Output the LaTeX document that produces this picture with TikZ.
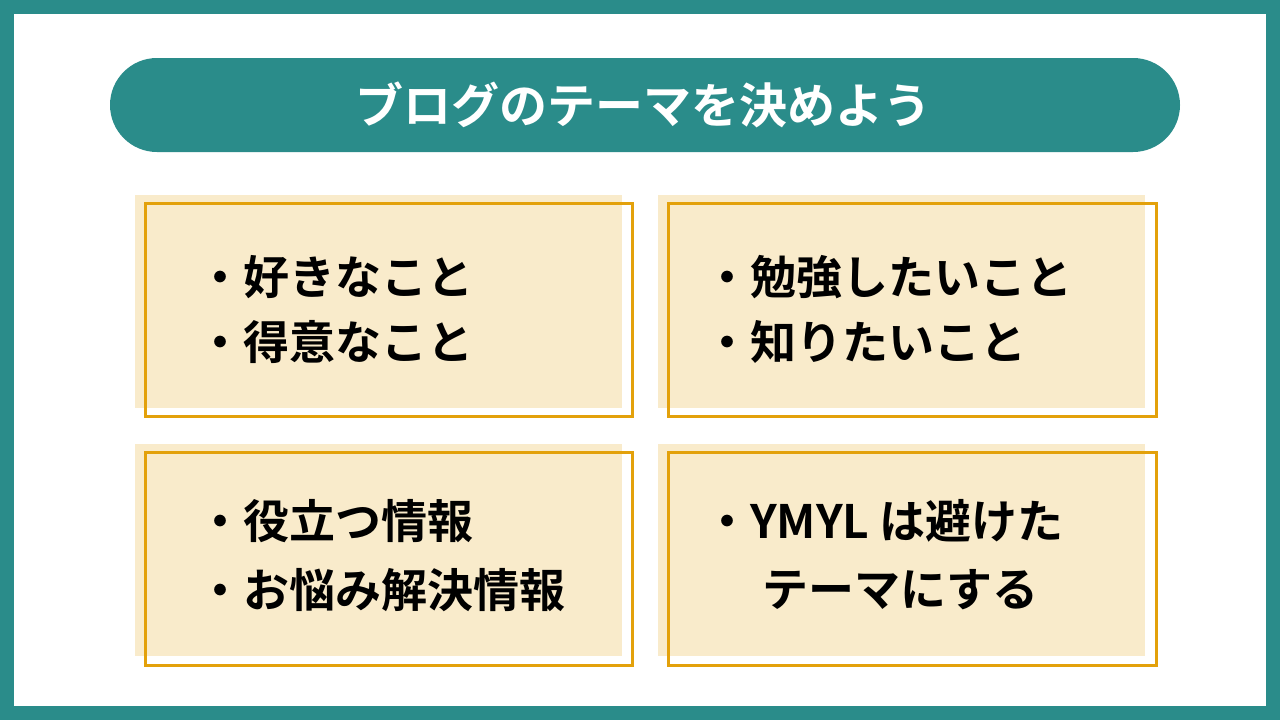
\documentclass[tikz,border=0pt]{standalone}
\usepackage{fontspec}
\newfontfamily\jp{Noto Sans CJK JP Bold}
\definecolor{teal}{HTML}{2A8C8A}
\definecolor{cream}{HTML}{F9EBCB}
\definecolor{gold}{HTML}{E3A10B}
\begin{document}
\begin{tikzpicture}
            [
                x=1pt, y=-1pt,
                card/.style = {fill=cream, draw=none},
                frame/.style = {draw=gold, line width=3pt},
                item/.style = {anchor=west, inner sep=0pt, font=\jp\fontsize{46}{48}\selectfont}
            ]
            \fill[teal] (0,0) rectangle (1280,720);
            \fill[white] (14,14) rectangle (1266,706);
            \fill[teal, rounded corners=47pt] (110,58) rectangle (1180,152);
            \node[text=white, font=\jp\fontsize{48}{50}\selectfont] (title) at (643,105) {ブログのテーマを決めよう};
            \fill[card] (135,195) rectangle (622,408);
            \fill[card] (658,195) rectangle (1145,408);
            \fill[card] (135,444) rectangle (622,656);
            \fill[card] (658,444) rectangle (1145,656);
            \draw[frame] (145,203) rectangle (632,416);
            \draw[frame] (668,203) rectangle (1156,416);
            \draw[frame] (145,452) rectangle (632,665);
            \draw[frame] (668,452) rectangle (1156,665);
            \node[item] (a1) at (197,277) {・好きなこと};
            \node[item] (a2) at (197,342) {・得意なこと};
            \node[item] (b1) at (704,277) {・勉強したいこと};
            \node[item] (b2) at (704,342) {・知りたいこと};
            \node[item] (c1) at (197,521) {・役立つ情報};
            \node[item] (c2) at (197,590) {・お悩み解決情報};
            \node[item] (d1) at (704,521) {・YMYL は避けた};
            \node[item] (d2) at (762,590) {テーマにする};
        \end{tikzpicture}
\end{document}
